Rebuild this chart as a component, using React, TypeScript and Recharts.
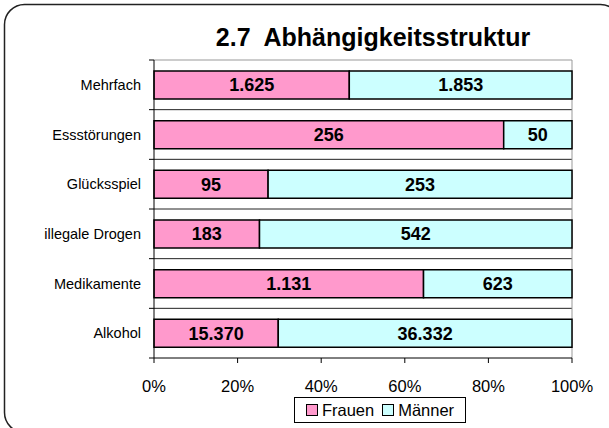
import React from "react";
import {
  BarChart,
  Bar,
  XAxis,
  YAxis,
  CartesianGrid,
  LabelList,
} from "recharts";

const categories = [
  "Mehrfach",
  "Essstörungen",
  "Glücksspiel",
  "illegale Drogen",
  "Medikamente",
  "Alkohol",
];
const frauen = [1625, 256, 95, 183, 1131, 15370];
const maenner = [1853, 50, 253, 542, 623, 36332];
const xTicks = [0, 0.2, 0.4, 0.6, 0.8, 1];

const seriesNames = ["Frauen", "Männer"];
const COLORS = ["#FF99CC", "#CCFFFF"];

const data = categories.map((name, i) => ({
  name,
  frauen: frauen[i],
  maenner: maenner[i],
}));

const W = 609;
const H = 428;
const PLOT_LEFT = 154;
const PLOT_RIGHT = 572;
const PLOT_TOP = 60;
const PLOT_BOTTOM = 358;
const BAND = (PLOT_BOTTOM - PLOT_TOP) / categories.length;
const FONT = "'Liberation Sans', Arial, sans-serif";

const fmt = (v: any) =>
  String(v).replace(/\B(?=(\d{3})+(?!\d))/g, ".");

const CategoryTick = (props: any) => {
  const { x, y, payload, index } = props;
  const axisX = PLOT_LEFT;
  return (
    <g>
      <line
        x1={axisX - 5}
        x2={axisX}
        y1={y - BAND / 2}
        y2={y - BAND / 2}
        stroke="#000"
      />
      {index === categories.length - 1 && (
        <line
          x1={axisX - 5}
          x2={axisX}
          y1={y + BAND / 2}
          y2={y + BAND / 2}
          stroke="#000"
        />
      )}
      <text
        x={x}
        y={y}
        dy="0.36em"
        textAnchor="end"
        fontSize={14.5}
        fontFamily={FONT}
        fill="#000"
      >
        {payload.value}
      </text>
    </g>
  );
};

export default function App() {
  return (
    <div
      style={{
        position: "absolute",
        left: 0,
        top: 0,
        width: W,
        height: H,
        background: "#fff",
        overflow: "hidden",
        fontFamily: FONT,
      }}
    >
      <BarChart
        width={W}
        height={H}
        data={data}
        layout="vertical"
        stackOffset="expand"
        margin={{
          top: PLOT_TOP,
          right: W - PLOT_RIGHT,
          bottom: H - PLOT_BOTTOM - 30,
          left: PLOT_LEFT - 150,
        }}
      >
        <CartesianGrid
          horizontal
          vertical={false}
          stroke="#222"
          horizontalCoordinatesGenerator={() =>
            categories.slice(1).map((_, i) => PLOT_TOP + (i + 1) * BAND)
          }
        />
        <CartesianGrid
          horizontal
          vertical
          stroke="#999"
          horizontalCoordinatesGenerator={() => [PLOT_TOP]}
          verticalCoordinatesGenerator={() => [PLOT_RIGHT]}
        />
        <XAxis
          type="number"
          domain={[0, 1]}
          ticks={xTicks}
          tickFormatter={(v) => `${Math.round(v * 100)}%`}
          height={30}
          axisLine={{ stroke: "#000" }}
          tickLine={{ stroke: "#000" }}
          tickSize={5}
          tickMargin={17}
          tick={{ fontSize: 16.5, fill: "#000", fontFamily: FONT }}
          interval={0}
        />
        <YAxis
          type="category"
          dataKey="name"
          width={150}
          axisLine={{ stroke: "#000" }}
          tickLine={false}
          tickSize={6}
          tickMargin={7}
          tick={<CategoryTick />}
          interval={0}
        />
        <Bar
          dataKey="frauen"
          stackId="a"
          fill={COLORS[0]}
          stroke="#000"
          strokeWidth={1.5}
          barSize={28}
          isAnimationActive={false}
        >
          <LabelList
            dataKey="frauen"
            position="center"
            formatter={fmt}
            fill="#000"
            fontWeight="bold"
            fontSize={18}
            fontFamily={FONT}
          />
        </Bar>
        <Bar
          dataKey="maenner"
          stackId="a"
          fill={COLORS[1]}
          stroke="#000"
          strokeWidth={1.5}
          barSize={28}
          isAnimationActive={false}
        >
          <LabelList
            dataKey="maenner"
            position="center"
            formatter={fmt}
            fill="#000"
            fontWeight="bold"
            fontSize={18}
            fontFamily={FONT}
          />
        </Bar>
      </BarChart>

      <svg
        width={W}
        height={H}
        style={{ position: "absolute", left: 0, top: 0, pointerEvents: "none" }}
      >
        <rect
          x={4.5}
          y={4.5}
          width={616}
          height={428}
          rx={20}
          ry={20}
          fill="none"
          stroke="#222"
          strokeWidth={1.5}
        />
        <text
          x={373}
          y={46}
          textAnchor="middle"
          fontSize={25}
          fontWeight="bold"
          fontFamily={FONT}
          fill="#000"
          style={{ whiteSpace: "pre" }}
        >
          {"2.7  Abhängigkeitsstruktur"}
        </text>
      </svg>

      <div
        style={{
          position: "absolute",
          left: 294,
          top: 397,
          width: 170,
          height: 24,
          border: "1px solid #000",
          background: "#fff",
          display: "flex",
          alignItems: "center",
          justifyContent: "center",
          gap: 8,
          fontSize: 16.5,
          color: "#000",
        }}
      >
        {seriesNames.map((s, i) => (
          <span key={s} style={{ display: "flex", alignItems: "center" }}>
            <span
              style={{
                display: "inline-block",
                width: 10,
                height: 10,
                border: "1.5px solid #000",
                background: COLORS[i],
                marginRight: 4,
              }}
            />
            {s}
          </span>
        ))}
      </div>
    </div>
  );
}
